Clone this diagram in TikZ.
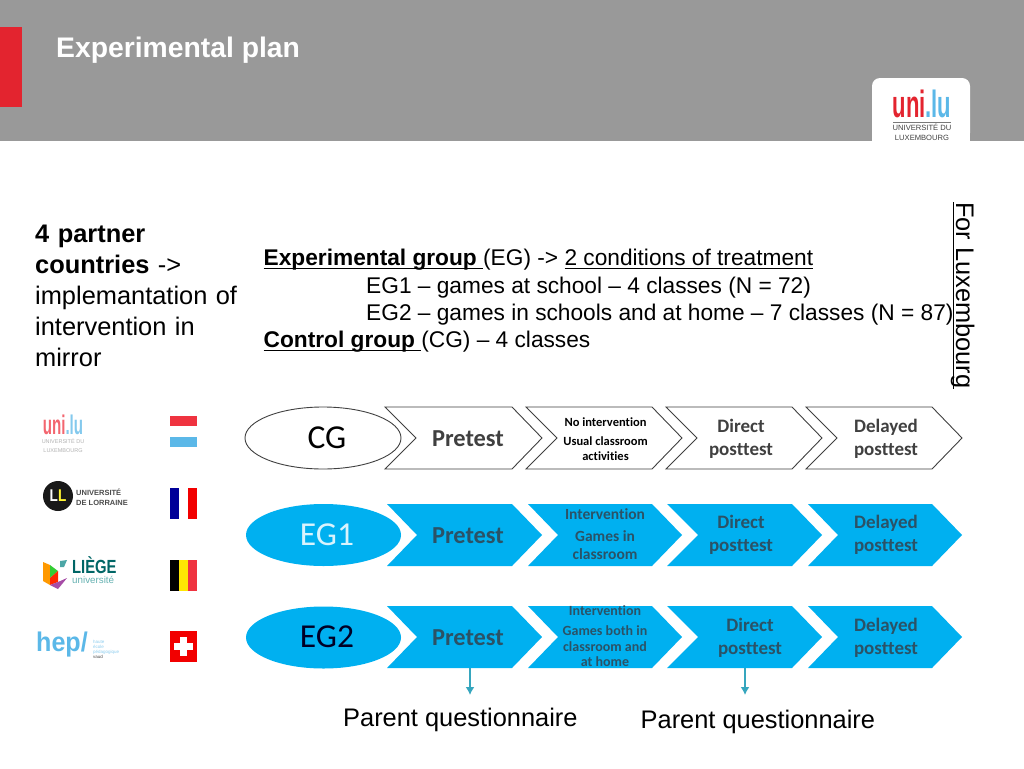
\documentclass[tikz,border=0pt]{standalone}
\usepackage{fontspec}
\setmainfont{Liberation Sans}
\newfontfamily\logofont[Ligatures=NoCommon]{Carlito}
\usetikzlibrary{arrows.meta}
\definecolor{hdr}{HTML}{999999}
\definecolor{redbar}{HTML}{E3242F}
\definecolor{cyanfill}{HTML}{00B0F0}
\definecolor{chevtxt}{HTML}{404040}
\definecolor{cyantxt}{HTML}{2B5266}
\definecolor{arrowc}{HTML}{36A6BE}
\definecolor{lured}{HTML}{EF3340}
\definecolor{lublue}{HTML}{5BB8E8}
\newcommand{\ulbar}[1]{\setbox0=\hbox{#1}\rlap{\rule[-3pt]{\wd0}{0.9pt}}\box0}
\tikzset{
 x=1pt,y=-1pt,
 bodytext/.style={anchor=base west,inner sep=0pt,text=black},
 outlinechev/.style={draw=chevtxt,line width=0.9pt,fill=white},
 cyanchev/.style={fill=cyanfill},
 outlineell/.style={draw=chevtxt,line width=0.9pt,fill=white},
 cyanell/.style={fill=cyanfill},
 lab/.style={font=\logofont\bfseries\fontsize{24.4}{26}\selectfont,align=center,inner sep=0pt,text=chevtxt},
 lab2/.style={font=\logofont\bfseries\fontsize{19}{23}\selectfont,align=center,inner sep=0pt,text=chevtxt},
 labc/.style={lab,text=cyantxt},
 lab2c/.style={lab2,text=cyantxt},
 small/.style={font=\logofont\bfseries\fontsize{12.5}{15}\selectfont,align=center,inner sep=0pt,text=black},
 smallc/.style={font=\logofont\bfseries\fontsize{15.5}{18}\selectfont,align=center,inner sep=0pt,text=cyantxt},
 grp/.style={font=\logofont\fontsize{33.5}{34}\selectfont,inner sep=0pt},
 qarrow/.style={draw=arrowc,line width=1.8pt,-{Latex[length=8pt,width=9pt]}},
}
% #1 style, #2 left x, #3 notch x, #4 top-right x, #5 tip x, #6 top y, #7 bottom y
\newcommand{\chevshape}[7]{\path[#1] (#2,#6) -- (#4,#6) -- (#5,{(#6+#7)/2}) -- (#4,#7) -- (#2,#7) -- (#3,{(#6+#7)/2}) -- cycle;}
\begin{document}
\begin{tikzpicture}
\useasboundingbox (0,0) rectangle (1024,768);
\fill[white] (0,0) rectangle (1024,768);
% header
\fill[hdr] (0,0) rectangle (1024,141);
\fill[redbar] (0,27) rectangle (22,107);
\node[anchor=base west,inner sep=0pt,text=white,font=\bfseries\fontsize{28.3}{30}\selectfont] (title) at (56,57) {Experimental plan};
% top-right logo
\fill[white,rounded corners=8pt] (872,78) -- (970,78) -- (970,141) -- (872,141) -- cycle;
\fill[white] (872,100) rectangle (970,141);
\node[anchor=base,inner sep=0pt,xscale=.58,font=\bfseries\fontsize{38}{40}\selectfont] (logotop) at (922,117) {\textcolor{redbar}{uni}\textcolor{lublue}{.lu}};
\fill[chevtxt!70] (893,121.5) rectangle (951,122.2);
\node[inner sep=0pt,align=center,text=chevtxt,font=\fontsize{7.6}{10}\selectfont] (logotoptxt) at (922,132) {UNIVERSITÉ DU\\LUXEMBOURG};
% left text
\node[bodytext,font=\fontsize{25.4}{31}\selectfont,align=left,text width=215pt,anchor=north west] (partners) at (35,225) {\textbf{4 partner}\\\textbf{countries} ->\\implemantation of\\intervention in\\mirror};
% main text
\node[bodytext,font=\fontsize{22.7}{27}\selectfont] (l1) at (263.5,265.5) {\ulbar{\textbf{Experimental group }}(EG) -> \ulbar{2 conditions of treatment}};
\node[bodytext,font=\fontsize{22.7}{27}\selectfont] (l2) at (366,293) {EG1 – games at school – 4 classes (N = 72)};
\node[bodytext,font=\fontsize{22.7}{27}\selectfont] (l3) at (366,320) {EG2 – games in schools and at home – 7 classes (N = 87)};
\node[bodytext,font=\fontsize{22.7}{27}\selectfont] (l4) at (263.5,347.5) {\ulbar{\textbf{Control group }}(CG) – 4 classes};
\node[bodytext,font=\fontsize{25.4}{27}\selectfont,rotate=-90] (forlux) at (956,202) {\ulbar{For Luxembourg}};
% left logos
\node[anchor=base,inner sep=0pt,opacity=.75,xscale=.56,font=\bfseries\fontsize{27}{28}\selectfont] (u1) at (63,434) {\textcolor{lured}{uni}\textcolor{lublue}{.lu}};
\node[inner sep=0pt,align=center,text=gray!60,font=\fontsize{5.5}{9}\selectfont] (u1t) at (63,446) {UNIVERSITÉ DU\\LUXEMBOURG};
\fill[black!90] (58,496) circle (15);
\node[inner sep=0pt,font=\bfseries\fontsize{17}{17}\selectfont,xscale=.8] (u2m) at (58,496) {\textcolor{white}{L}\textcolor{yellow!80!white}{L}};
\node[inner sep=0pt,align=left,text=black!70,font=\bfseries\fontsize{7.5}{10}\selectfont,anchor=west] (u2) at (76,497) {UNIVERSITÉ\\DE LORRAINE};
\fill[orange!80!yellow] (43,562) -- (50,565) -- (50,585) -- (43,581) -- cycle;
\fill[green!60!gray] (50,565) -- (58,571) -- (50,578) -- cycle;
\fill[red!70!orange] (50,578) -- (58,571) -- (58,582) -- (50,585) -- cycle;
\fill[violet!70] (50,585) -- (58,582) -- (67,578) -- (58,589) -- cycle;
\fill[teal!70] (60,561) -- (67,560) -- (64,567) -- (60,567) -- cycle;
\node[anchor=base west,inner sep=0pt,text=teal!80!black,xscale=.78,font=\bfseries\fontsize{19}{19}\selectfont] (u3) at (72,573) {LIÈGE};
\node[inner sep=0pt,anchor=west,text=teal!60,font=\fontsize{9.8}{10}\selectfont] (u3t) at (72,580) {université};
\node[inner sep=0pt,anchor=west,text=lublue,font=\bfseries\fontsize{27}{27}\selectfont,xscale=.93] (u4) at (36,645) {hep/};
\node[inner sep=0pt,anchor=west,align=left,text=lublue!70,font=\fontsize{4.5}{5}\selectfont] (u4t) at (93,649) {haute\\école\\pédagogique\\\textcolor{black!70}{vaud}};
% flags
\fill[lured] (170,416) rectangle (197,426);
\fill[lublue] (170,437) rectangle (197,447);
\fill[blue!60!black] (170,488) rectangle (179,519);
\fill[red!95!black] (188,488) rectangle (197,519);
\fill[black] (170,560) rectangle (179,591);
\fill[yellow!90!orange] (179,560) rectangle (188,591);
\fill[lured] (188,560) rectangle (197,591);
\fill[red!95!black] (170,631) rectangle (197,662);
\fill[white] (180,637) rectangle (187,656);
\fill[white] (174,643) rectangle (193,650);
% CG row
\path[outlineell] (323,438) ellipse [x radius=78,y radius=31];
\node[grp,text=black] (cg) at (327,438) {CG};
\chevshape{outlinechev}{385}{416}{512}{542}{407}{469}
\chevshape{outlinechev}{526}{557}{652}{682}{407}{469}
\chevshape{outlinechev}{666}{697}{792}{822}{407}{469}
\chevshape{outlinechev}{806}{837}{932}{962}{407}{469}
\node[lab] (c1) at (468,439) {Pretest};
\node[small] (c2) at (605.5,439) {No intervention\\[4pt]Usual classroom\\activities};
\node[lab2] (c3) at (741,439) {Direct\\posttest};
\node[lab2] (c4) at (886,439) {Delayed\\posttest};
% EG1 row
\path[cyanell] (323.5,535) ellipse [x radius=77.5,y radius=31];
\node[grp,text=white!85!cyanfill] (e1) at (327,535) {EG1};
\chevshape{cyanchev}{387}{417}{512}{542}{504}{566}
\chevshape{cyanchev}{528}{558}{652}{682}{504}{566}
\chevshape{cyanchev}{667}{698}{792}{822}{504}{566}
\chevshape{cyanchev}{808}{838}{932}{962}{504}{566}
\node[labc] (e11) at (468,536) {Pretest};
\node[smallc] (e12) at (605,534) {Intervention\\[4pt]Games in\\classroom};
\node[lab2c] (e13) at (741,535) {Direct\\posttest};
\node[lab2c] (e14) at (886,535) {Delayed\\posttest};
% EG2 row
\path[cyanell] (323.5,637.5) ellipse [x radius=77.5,y radius=31];
\node[grp,text=black!85!blue] (e2) at (327,637) {EG2};
\chevshape{cyanchev}{387}{417}{512}{542}{606}{668}
\chevshape{cyanchev}{528}{558}{652}{682}{606}{668}
\chevshape{cyanchev}{667}{698}{792}{822}{606}{668}
\chevshape{cyanchev}{808}{838}{932}{962}{606}{668}
\node[labc] (e21) at (468,638) {Pretest};
\node[smallc,font=\logofont\bfseries\fontsize{14}{15.5}\selectfont] (e22) at (605,636) {Intervention\\[5pt]Games both in\\classroom and\\at home};
\node[lab2c] (e23) at (750,638) {Direct\\posttest};
\node[lab2c] (e24) at (886,638) {Delayed\\posttest};
% questionnaires
\coordinate (q1s) at (470,668);
\coordinate (q1e) at (470,695);
\coordinate (q2s) at (745,668);
\coordinate (q2e) at (745,695);
\draw[qarrow] (q1s) -- (q1e);
\draw[qarrow] (q2s) -- (q2e);
\node[bodytext,font=\fontsize{25.4}{27}\selectfont] (q1) at (343,726) {Parent questionnaire};
\node[bodytext,font=\fontsize{25.4}{27}\selectfont] (q2) at (640.5,728) {Parent questionnaire};
\end{tikzpicture}
\end{document}
